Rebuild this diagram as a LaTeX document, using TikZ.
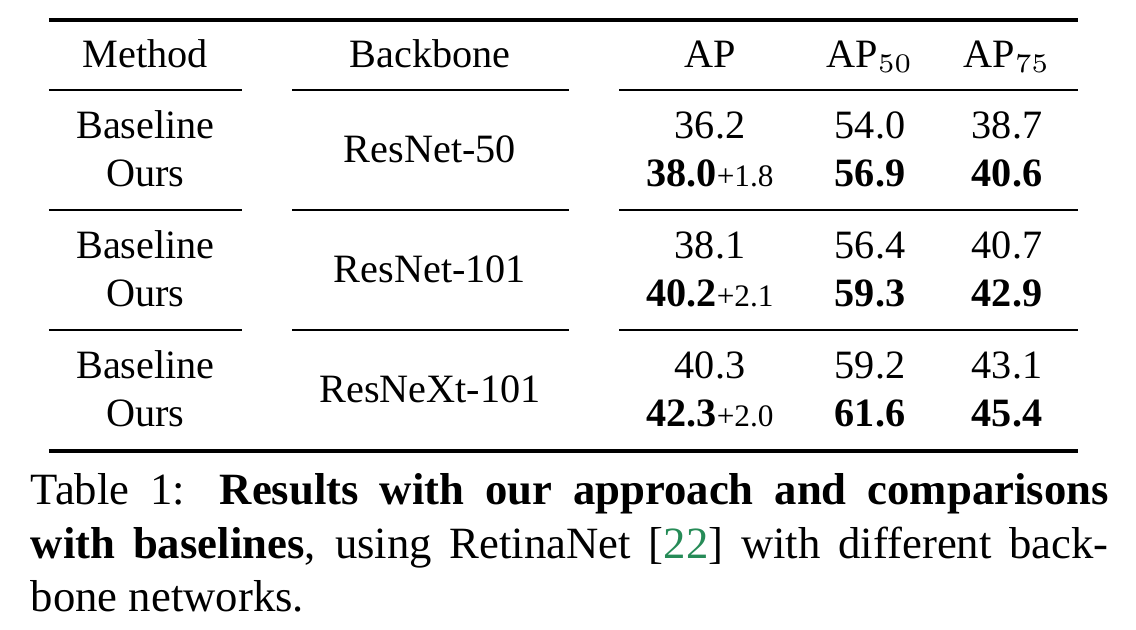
\documentclass[tikz,border=0pt]{standalone}
\usepackage[no-math]{fontspec}
\setmainfont{Liberation Serif}
\definecolor{citegreen}{RGB}{38,139,87}
\newcommand\tabfont{\fontsize{9}{11}\selectfont}
\newcommand\capfont{\fontsize{10}{12}\selectfont}
\newcommand\gainfont{\fontsize{7}{8}\selectfont}
\tikzset{
  cell/.style={anchor=base, inner sep=0pt, font=\tabfont},
  heavyrule/.style={line width=0.72pt},
  lightrule/.style={line width=0.3pt},
}
\begin{document}
\begin{tikzpicture}[x=0.2237pt,y=-0.2237pt]
\useasboundingbox (0,0) rectangle (1136,630);
% rules
\draw[heavyrule] (49,20) -- (1078,20);
\foreach \yy in {90,210,330}{
  \draw[lightrule] (49,\yy) -- (242,\yy);
  \draw[lightrule] (292,\yy) -- (569,\yy);
  \draw[lightrule] (619,\yy) -- (1078,\yy);
}
\draw[heavyrule] (49,451) -- (1078,451);
% header
\node[cell] (hM) at (145.5,68) {Method};
\node[cell] (hB) at (430,68) {Backbone};
\node[cell] (hAP) at (710,68) {AP};
\node[cell] (hAP50) at (870,68) {AP$_{50}$};
\node[cell] (hAP75) at (1007,68) {AP$_{75}$};
% group 1
\node[cell] (m1a) at (145.5,139) {Baseline};
\node[cell] (m1b) at (145.5,187) {Ours};
\node[cell] (b1) at (430,163) {ResNet-50};
\node[cell] (a1a) at (710,139) {36.2};
\node[cell] (a1b) at (710,187) {\textbf{38.0}{\gainfont +1.8}};
\node[cell] (c1a) at (870,139) {54.0};
\node[cell] (c1b) at (870,187) {\textbf{56.9}};
\node[cell] (d1a) at (1007,139) {38.7};
\node[cell] (d1b) at (1007,187) {\textbf{40.6}};
% group 2
\node[cell] (m2a) at (145.5,259) {Baseline};
\node[cell] (m2b) at (145.5,307) {Ours};
\node[cell] (b2) at (430,283) {ResNet-101};
\node[cell] (a2a) at (710,259) {38.1};
\node[cell] (a2b) at (710,307) {\textbf{40.2}{\gainfont +2.1}};
\node[cell] (c2a) at (870,259) {56.4};
\node[cell] (c2b) at (870,307) {\textbf{59.3}};
\node[cell] (d2a) at (1007,259) {40.7};
\node[cell] (d2b) at (1007,307) {\textbf{42.9}};
% group 3
\node[cell] (m3a) at (145.5,379) {Baseline};
\node[cell] (m3b) at (145.5,427) {Ours};
\node[cell] (b3) at (430,403) {ResNeXt-101};
\node[cell] (a3a) at (710,379) {40.3};
\node[cell] (a3b) at (710,427) {\textbf{42.3}{\gainfont +2.0}};
\node[cell] (c3a) at (870,379) {59.2};
\node[cell] (c3b) at (870,427) {\textbf{61.6}};
\node[cell] (d3a) at (1007,379) {43.1};
\node[cell] (d3b) at (1007,427) {\textbf{45.4}};
% caption
\node[anchor=base west, inner sep=0pt, text width=241.1pt, align=justify, font=\capfont] (cap) at (30,504.5)
 {Table 1: \textbf{Results with our approach and comparisons\linebreak with baselines}, using RetinaNet [\textcolor{citegreen}{22}] with different back-\linebreak bone networks.};
\end{tikzpicture}
\end{document}
